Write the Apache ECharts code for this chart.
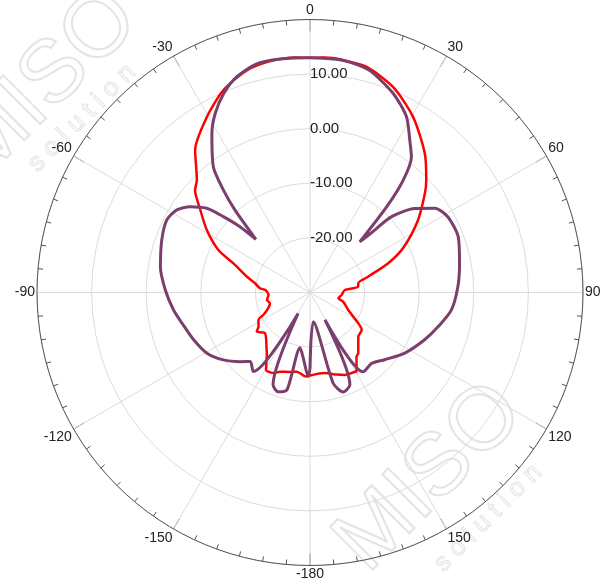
<!DOCTYPE html>
<html>
<head>
<meta charset="utf-8">
<script src="https://cdn.jsdelivr.net/npm/echarts@6/dist/echarts.min.js"></script>
<style>
  html, body { margin: 0; padding: 0; background: #fff; }
  #chart { width: 600px; height: 587px; }
</style>
</head>
<body>
<div id="chart"></div>
<script>
// radiation pattern, angle in degrees (0 = up, clockwise), gain in dB
const redAngle = [-180, -177, -170.5, -165.8, -159.3, -155.6, -152.2, -150.4, -144.5, -143, -132.2, -126.3, -123.5, -118, -115.7, -110.8, -105.1, -99.8, -93.4, -86.8, -85.2, -80.5, -76, -69.2, -65.1, -58.8, -53.1, -48.3, -45.2, -38.9, -30.4, -23.2, -15.9, -9.7, -3.5, 0, 3.5, 8, 14.1, 22, 30.4, 39.6, 46, 49.2, 56.2, 64.3, 69.5, 74.8, 79.2, 83.2, 85.9, 94.5, 101.6, 105.4, 114.6, 122.5, 125.9, 132.5, 141.5, 144, 149.5, 150.4, 157, 162, 169.5, 180];
const redGain = [-14.8, -14.6, -15.3, -15.0, -14.5, -13.8, -13.6, -13.7, -16.4, -16.8, -18.9, -17.9, -18.7, -19.3, -20.5, -21.8, -22.4, -22.0, -22.4, -21.8, -20.8, -19.8, -18.1, -15.0, -11.5, -7.9, -4.9, -1.8, -0.8, 3.5, 7.3, 10.3, 12.3, 13.0, 13.1, 13.0, 13.1, 13.0, 12.6, 10.6, 7.3, 3.0, -0.4, -2.2, -6.2, -11.0, -14.7, -19.0, -21.0, -21.1, -23.6, -24.2, -24.7, -23.7, -22.3, -19.5, -18.3, -18.0, -15.8, -15.5, -13.2, -13.3, -13.6, -14.2, -15.0, -14.8];

const purpleAngle = [-180, -178.8, -174, -169.8, -166.7, -162.2, -158.2, -150.4, -144.4, -139.1, -134.7, -127.9, -120.5, -112.1, -103.5, -97.3, -89, -80.2, -70.5, -63.2, -58.2, -54.4, -50.8, -48.8, -46.8, -45.5, -42.3, -40.2, -37.6, -31.7, -27.9, -23.5, -18.8, -13.1, -7.3, 0, 6.5, 10, 15.1, 22.7, 28.8, 33.3, 36.8, 39.7, 41.8, 44.5, 45.8, 47.1, 51.3, 56, 61.3, 69.4, 79, 87.8, 97, 104.9, 112.4, 122.6, 132, 139.1, 146.1, 151.4, 156.6, 161.6, 165.7, 173.5, 180];
const purpleGain = [-16.0, -14.6, -18.0, -19.7, -11.7, -10.9, -11.8, -25.6, -12.2, -13.3, -12.0, -9.9, -8.1, -7.0, -5.9, -4.8, -3.5, -2.2, -1.2, -0.6, -1.3, -3.0, -5.6, -8.9, -12.4, -16.1, -9.6, -5.4, -1.0, 4.2, 7.1, 9.7, 11.7, 13.0, 13.1, 13.0, 13.0, 12.8, 12.1, 9.5, 6.7, 3.3, 1.0, -3.3, -8.9, -17.0, -14.3, -9.6, -5.4, -2.4, -1.2, -1.0, -2.1, -2.9, -3.9, -5.7, -7.3, -9.4, -11.6, -12.8, -12.5, -24.3, -11.6, -10.8, -12.9, -24.6, -16.0];

function toPolar(angles, gains) {
  return angles.map(function (a, i) { return [gains[i], (a + 360) % 360]; });
}

const chart = echarts.init(document.getElementById('chart'));

chart.setOption({
  animation: false,
  backgroundColor: '#fff',
  graphic: [
    { type: 'text', z: -10, x: 45, y: 85, rotation: Math.PI / 4,
      style: { text: 'MISO', fontSize: 88, fontFamily: 'Liberation Sans', fill: 'none', stroke: '#e4e4e4', lineWidth: 2, align: 'center', verticalAlign: 'middle' } },
    { type: 'text', z: -10, x: 82, y: 118, rotation: Math.PI / 4,
      style: { text: 's o l u t i o n', fontSize: 26, fontFamily: 'Liberation Sans', fill: 'none', stroke: '#e4e4e4', lineWidth: 1, align: 'center', verticalAlign: 'middle' } },
    { type: 'text', z: -10, x: 430, y: 478, rotation: Math.PI / 4,
      style: { text: 'MISO', fontSize: 88, fontFamily: 'Liberation Sans', fill: 'none', stroke: '#e4e4e4', lineWidth: 2, align: 'center', verticalAlign: 'middle' } },
    { type: 'text', z: -10, x: 488, y: 518, rotation: Math.PI / 4,
      style: { text: 's o l u t i o n', fontSize: 26, fontFamily: 'Liberation Sans', fill: 'none', stroke: '#e4e4e4', lineWidth: 1, align: 'center', verticalAlign: 'middle' } }
  ],
  polar: {
    center: [310, 292.5],
    radius: 273
  },
  angleAxis: {
    type: 'value',
    min: 0,
    max: 360,
    interval: 30,
    startAngle: 90,
    clockwise: true,
    axisLine: { lineStyle: { color: '#555', width: 1 } },
    axisTick: { inside: true, length: 12, lineStyle: { color: '#555' } },
    minorTick: { show: true, splitNumber: 6, length: 5, lineStyle: { color: '#555' } },
    splitLine: { show: true, lineStyle: { color: '#dcdcdc', width: 1 } },
    axisLabel: {
      margin: 2,
      color: '#222',
      fontSize: 14,
      fontFamily: 'Liberation Sans',
      formatter: function (v) {
        if (v === 360) return '';
        return v < 180 ? String(v) : String(v - 360);
      }
    }
  },
  radiusAxis: {
    type: 'value',
    min: -30,
    max: 20,
    interval: 10,
    axisLine: { show: false },
    axisTick: { show: false },
    splitLine: { show: true, lineStyle: { color: '#dcdcdc', width: 1 } },
    axisLabel: {
      color: '#222',
      fontSize: 15,
      fontFamily: 'Liberation Sans',
      margin: 0,
      align: 'left',
      verticalAlign: 'middle',
      formatter: function (v) {
        if (v === -30 || v === 20) return '';
        return v.toFixed(2);
      }
    }
  },
  series: [
    {
      name: 'E-plane',
      type: 'line',
      coordinateSystem: 'polar',
      symbol: 'none',
      smooth: 0.25,
      clip: false,
      lineStyle: { color: '#ff0000', width: 2.5 },
      data: toPolar(redAngle, redGain)
    },
    {
      name: 'H-plane',
      type: 'line',
      coordinateSystem: 'polar',
      symbol: 'none',
      smooth: 0.25,
      clip: false,
      lineStyle: { color: '#7a3f6c', width: 3 },
      data: toPolar(purpleAngle, purpleGain)
    }
  ]
});
</script>
</body>
</html>
